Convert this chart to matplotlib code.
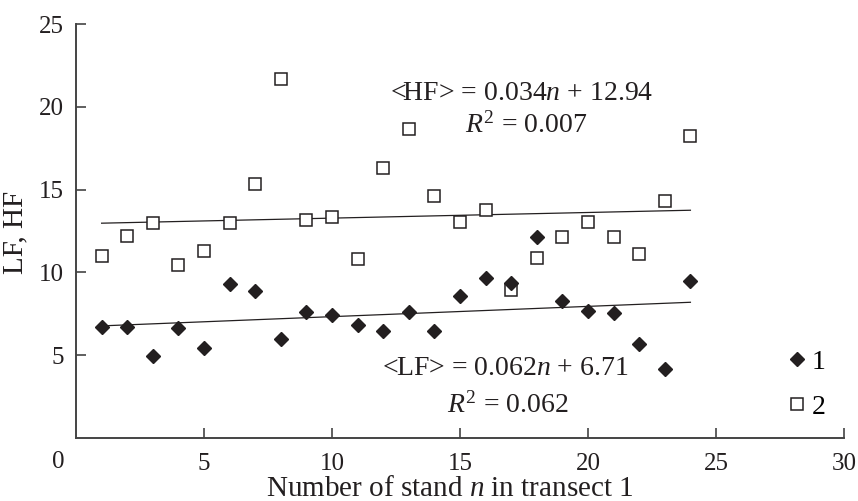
import numpy as np
import matplotlib.pyplot as plt

plt.rcParams['font.family'] = 'Liberation Serif'
plt.rcParams['mathtext.fontset'] = 'custom'
plt.rcParams['mathtext.rm'] = 'Liberation Serif'
plt.rcParams['mathtext.it'] = 'Liberation Serif:italic'
plt.rcParams['font.size'] = 17

# номер древостоя и индексы LF / HF
n = np.arange(1, 25)
lf = [6.72, 6.72, 4.95, 6.62, 5.45, 9.28, 8.88, 5.96, 7.63, 7.43, 6.82, 6.46,
      7.59, 6.46, 8.59, 9.68, 9.36, 12.12, 8.29, 7.69, 7.53, 5.66, 4.15, 9.48]
hf = [11.0, 12.2, 12.96, 10.45, 11.29, 12.96, 15.32, 21.68, 13.16, 13.37, 10.79, 16.28,
      18.64, 14.63, 13.06, 13.77, 8.94, 10.89, 12.16, 13.06, 12.16, 11.09, 14.33, 18.26]

# линейные тренды
lf_k, lf_b = 0.062, 6.71
hf_k, hf_b = 0.034, 12.94

ink = '#231f20'
big = 20

fig = plt.figure(figsize=(8.58, 5.01), dpi=100)
ax = fig.add_axes([0.0886, 0.1257, 0.8951, 0.8263])

ax.plot(n, hf, 's', ms=8.5, mfc='white', mec=ink, mew=1.1, label='2', zorder=3)
ax.plot(n, lf, 'D', ms=7, color=ink, label='1', zorder=4)
ax.plot([n[0], n[-1]], [hf_k * n[0] + hf_b, hf_k * n[-1] + hf_b], color=ink, lw=0.9, zorder=2)
ax.plot([n[0], n[-1]], [lf_k * n[0] + lf_b, lf_k * n[-1] + lf_b], color=ink, lw=0.9, zorder=2)

ax.text(12.27, 20.83, r'<HF> = 0.034$n$ + 12.94', ha='left', va='center', color=ink, fontsize=big)
ax.text(15.2, 18.9, r'$R^{\mathrm{2}}$ = 0.007', ha='left', va='center', color=ink, fontsize=big)
ax.text(11.94, 4.21, r'<LF> = 0.062$n$ + 6.71', ha='left', va='center', color=ink, fontsize=big)
ax.text(14.48, 2.0, r'$R^{\mathrm{2}}$ = 0.062', ha='left', va='center', color=ink, fontsize=big)

ax.set_xlim(0, 30)
ax.set_ylim(0, 25)
ax.set_xticks([5, 10, 15, 20, 25, 30])
ax.set_yticks([5, 10, 15, 20, 25])
ax.tick_params(direction='in', length=7, width=1.2, color='#444444', labelcolor=ink, labelsize=18)
ax.tick_params(axis='y', pad=9)
ax.tick_params(axis='x', pad=11)
ax.text(-0.7, -1.45, '0', ha='center', va='center', color=ink, fontsize=18, clip_on=False)

for s in ['top', 'right']:
    ax.spines[s].set_visible(False)
for s in ['left', 'bottom']:
    ax.spines[s].set_color('#444444')
    ax.spines[s].set_linewidth(1.4)

h, l = ax.get_legend_handles_labels()
ax.legend(h[::-1], l[::-1], loc='center left', bbox_to_anchor=(0.913, 0.129), frameon=False,
          fontsize=big, handlelength=0.45, handletextpad=0.3, labelspacing=0.7, borderpad=0)

fig.text(450 / 858, 1 - 489 / 501, r'Number of stand $n$ in transect 1', ha='center', va='center',
         color=ink, fontsize=21)
fig.text(15 / 858, 1 - 232 / 501, 'LF, HF', ha='center', va='center', rotation=90, color=ink, fontsize=21)

plt.savefig('out.png')
